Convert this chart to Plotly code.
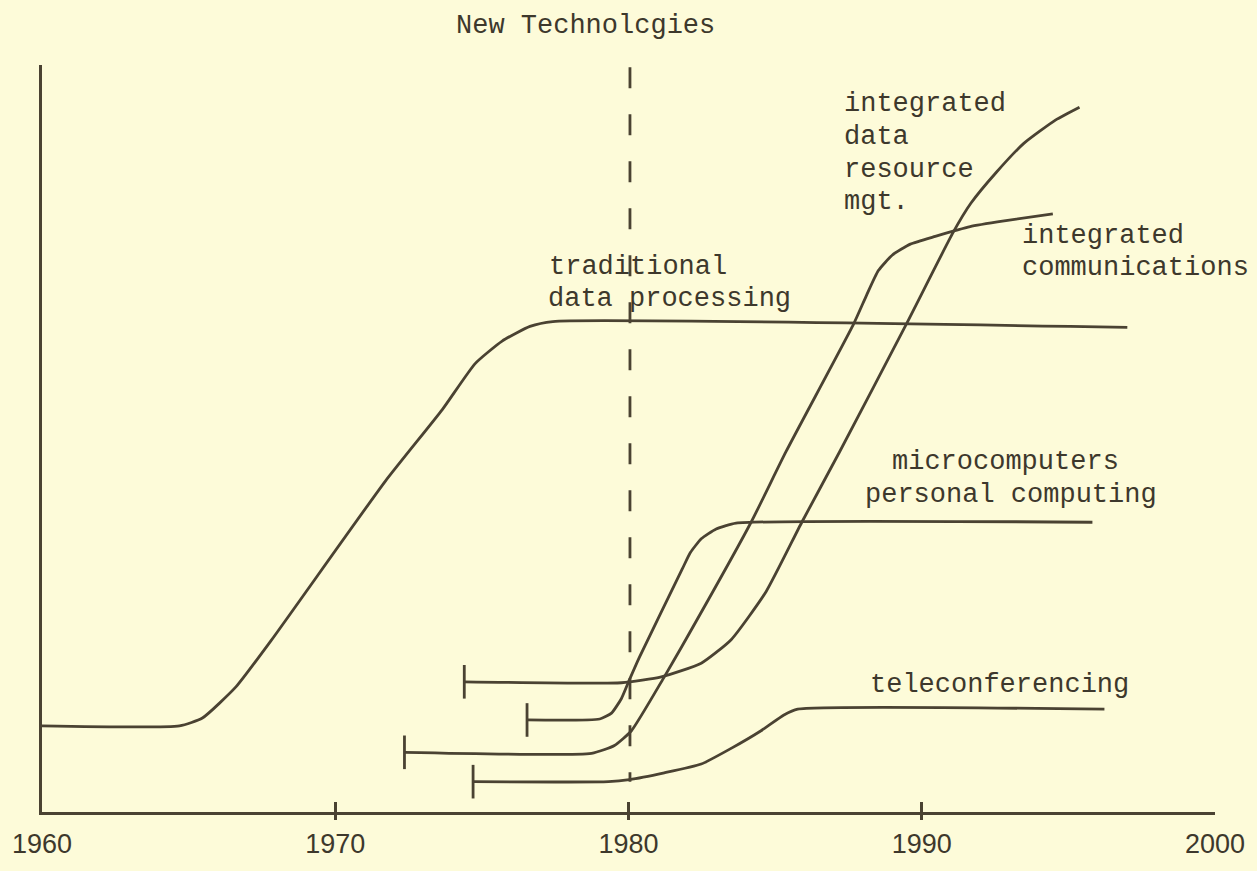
import plotly.graph_objects as go

# ---------------- data (years, relative level 0-100) ----------------
trad_years = [1960.00, 1964.69, 1965.47, 1966.62, 1967.81, 1971.71, 1973.65, 1974.77,
              1975.69, 1976.64, 1977.42, 1997.01]
trad_level = [11.53, 11.53, 12.58, 16.78, 22.94, 44.30, 53.87, 60.03,
              63.04, 65.01, 65.66, 64.88]

idrm_years = [1974.40, 1979.76, 1981.12, 1982.48, 1983.50, 1984.69, 1985.91, 1987.20,
              1989.47, 1991.07, 1991.68, 1992.53, 1993.48, 1994.57, 1995.38]
idrm_level = [17.43, 17.30, 18.09, 19.92, 23.07, 29.49, 38.79, 48.23,
              65.27, 77.59, 81.52, 85.58, 89.51, 92.66, 94.36]

comm_years = [1972.36, 1978.74, 1979.52, 1980.10, 1981.22, 1981.80, 1984.18, 1985.37,
              1987.67, 1988.12, 1988.52, 1989.00, 1989.61, 1990.46, 1991.65, 1992.87, 1994.47]
comm_level = [7.99, 7.86, 8.91, 10.88, 18.09, 22.02, 38.79, 48.23,
              65.27, 69.20, 72.48, 74.57, 76.02, 77.06, 78.37, 79.16, 80.08]

micro_years = [1976.54, 1979.02, 1979.42, 1979.76, 1980.03, 1980.37, 1981.83, 1982.11,
               1982.48, 1982.99, 1983.67, 1995.82]
micro_level = [12.32, 12.45, 13.24, 15.20, 17.69, 20.71, 32.50, 34.73,
               36.57, 37.88, 38.66, 38.79]

tele_years = [1974.70, 1979.32, 1980.03, 1981.22, 1982.48, 1983.50, 1984.52, 1985.30,
              1985.77, 1996.23]
tele_level = [4.06, 4.06, 4.33, 5.24, 6.42, 8.52, 10.88, 12.98, 13.76, 13.76]

new_tech_year = 1980.05
new_tech_span = [99.7, 4.06]

tick_years = [1960, 1970, 1980, 1990, 2000]
tick_labels = ["1960", "1970", "1980", "1990", "2000"]

# ---------------- styles ----------------
INK = "#4a4232"
TXT = "#3d382c"
BG = "#fdfbd9"
LW = 2.8
MONO = "Liberation Mono, Courier New, monospace"

fig = go.Figure()

series = [
    (trad_years, trad_level, False),
    (idrm_years, idrm_level, True),
    (comm_years, comm_level, True),
    (micro_years, micro_level, True),
    (tele_years, tele_level, True),
]
for xs, ys, has_bar in series:
    fig.add_trace(go.Scatter(x=xs, y=ys, mode="lines",
                             line=dict(color=INK, width=LW, shape="spline", smoothing=0.5),
                             hoverinfo="skip", showlegend=False))
    if has_bar:
        fig.add_trace(go.Scatter(x=[xs[0]], y=[ys[0]], mode="markers",
                                 marker=dict(symbol="line-ns", size=24,
                                             line=dict(color=INK, width=LW)),
                                 hoverinfo="skip", showlegend=False, xaxis="x3"))

# dashed "new technologies" line
fig.add_trace(go.Scatter(x=[new_tech_year, new_tech_year], y=new_tech_span, mode="lines",
                         line=dict(color=INK, width=LW, dash="21px,26px"),
                         hoverinfo="skip", showlegend=False, xaxis="x2"))

def label(text, x, y, anchor="left", yref="y"):
    fig.add_annotation(x=x, y=y, xref="x", yref=yref, text=text, showarrow=False,
                       xanchor=anchor, yanchor="middle",
                       font=dict(family=MONO, size=27, color=TXT))

label("New Technolcgies", 1978.52, 1.0524, "center", yref="paper")
label("traditional", 1977.22, 73.0)
label("data processing", 1977.18, 68.68)
label("integrated", 1987.28, 94.76)
label("data", 1987.28, 90.30)
label("resource", 1987.28, 85.98)
label("mgt.", 1987.28, 81.65)
label("integrated", 1993.34, 77.06)
label("communications", 1993.34, 72.87)
label("microcomputers", 1988.93, 46.79)
label("personal computing", 1987.98, 42.46)
label("teleconferencing", 1988.15, 17.04)

common_x = dict(range=[1960, 2000], showgrid=False, zeroline=False, fixedrange=True)
fig.update_layout(
    width=1257, height=871,
    margin=dict(l=38, r=41, t=65, b=43),
    paper_bgcolor=BG, plot_bgcolor=BG,
    showlegend=False,
    xaxis=dict(**common_x, tickvals=tick_years, ticktext=tick_labels, ticks="",
               showline=True, linecolor=INK, linewidth=LW,
               tickfont=dict(family="Liberation Sans, Arial, sans-serif", size=27, color=TXT),
               ticklabelstandoff=6),
    xaxis2=dict(**common_x, overlaying="x", matches="x", anchor="y", side="bottom",
                tickvals=[1970, 1980, 1990], ticks="outside", ticklen=7,
                tickcolor=INK, tickwidth=LW, showticklabels=False, showline=False),
    xaxis3=dict(**common_x, overlaying="x", matches="x", anchor="y", side="bottom",
                tickvals=[1970, 1980, 1990, 2000], ticks="inside", ticklen=10,
                tickcolor=INK, tickwidth=LW, showticklabels=False, showline=False),
    yaxis=dict(range=[0, 100], showgrid=False, zeroline=False, showticklabels=False,
               ticks="", showline=True, linecolor=INK, linewidth=LW, fixedrange=True),
)

fig.write_html("out.html",
               config={"displayModeBar": False},
               post_script="document.body.style.margin='0';"
                           "document.body.style.background='" + BG + "';")
